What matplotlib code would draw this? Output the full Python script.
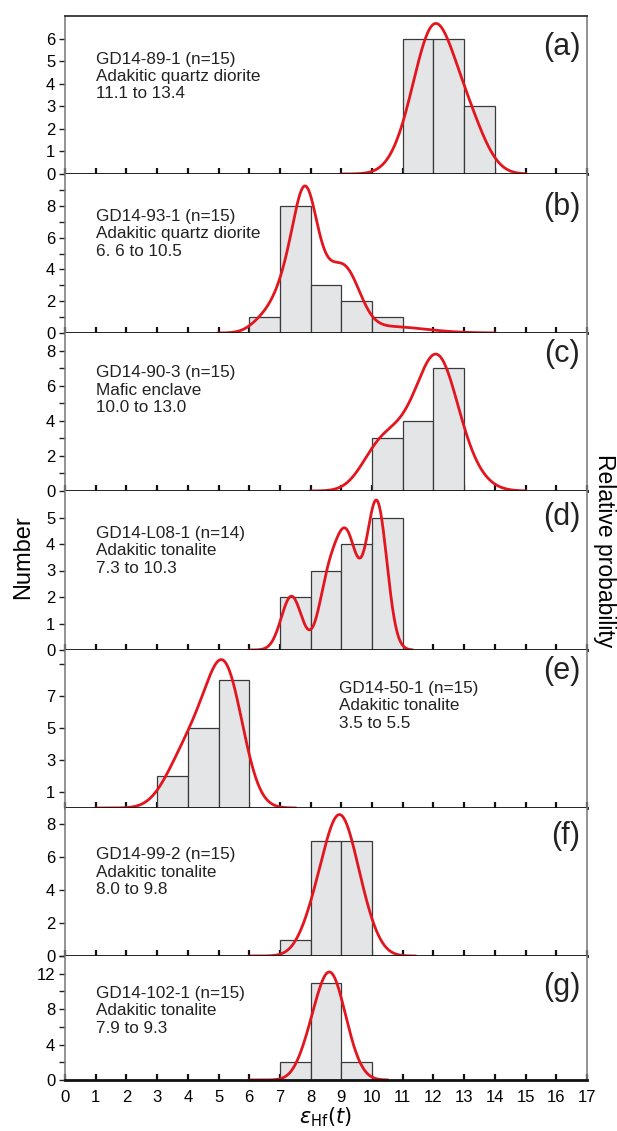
import matplotlib.pyplot as plt
import numpy as np

plt.rcParams['font.family'] = ['Liberation Sans', 'DejaVu Sans']

# individual eHf(t) analyses for each sample (histogram + probability curve)
vals_a = [11.1, 11.5, 11.7, 11.8, 11.9, 11.95, 12.0, 12.1, 12.2, 12.3, 12.45, 12.7, 13.0, 13.1, 13.4]
sig_a = [0.55] * 15
vals_b = [6.6, 7.1, 7.4, 7.6, 7.75, 7.82, 7.88, 7.94, 7.98, 8.4, 8.8, 8.95, 9.2, 9.35, 10.5]
sig_b = [0.45, 0.35, 0.35, 0.35, 0.35, 0.35, 0.35, 0.35, 0.35, 0.35, 0.45, 0.45, 0.45, 0.45, 1.2]
vals_c = [10.0, 10.3, 10.7, 11.1, 11.4, 11.7, 11.9, 12.0, 12.1, 12.2, 12.3, 12.5, 12.7, 12.98]
sig_c = [0.55] * 12 + [0.65, 0.65]
vals_d = [7.3, 7.45, 8.5, 8.6, 8.9, 9.1, 9.2, 9.3, 9.7, 10.0, 10.1, 10.2, 10.25, 10.3]
sig_d = [0.32, 0.32, 0.3, 0.3, 0.3, 0.3, 0.3, 0.3, 0.35, 0.3, 0.3, 0.3, 0.3, 0.3]
vals_e = [3.5, 3.8, 4.1, 4.3, 4.5, 4.7, 4.95, 5.1, 5.15, 5.2, 5.25, 5.3, 5.35, 5.4, 5.5]
sig_e = [0.55] * 15
vals_f = [7.99, 8.2, 8.4, 8.6, 8.7, 8.8, 8.9, 8.95, 9.0, 9.05, 9.1, 9.2, 9.4, 9.6, 9.8]
sig_f = [0.45] * 15
vals_g = [7.9, 7.95, 8.2, 8.3, 8.4, 8.5, 8.55, 8.6, 8.65, 8.7, 8.8, 8.85, 8.9, 9.1, 9.3]
sig_g = [0.38] * 15

all_vals = [vals_a, vals_b, vals_c, vals_d, vals_e, vals_f, vals_g]
all_sig = [sig_a, sig_b, sig_c, sig_d, sig_e, sig_f, sig_g]

names = ["GD14-89-1 (n=15)", "GD14-93-1 (n=15)", "GD14-90-3 (n=15)", "GD14-L08-1 (n=14)",
         "GD14-50-1 (n=15)", "GD14-99-2 (n=15)", "GD14-102-1 (n=15)"]
rocks = ["Adakitic quartz diorite", "Adakitic quartz diorite", "Mafic enclave", "Adakitic tonalite",
         "Adakitic tonalite", "Adakitic tonalite", "Adakitic tonalite"]
ranges = ["11.1 to 13.4", "6. 6 to 10.5", "10.0 to 13.0", "7.3 to 10.3",
          "3.5 to 5.5", "8.0 to 9.8", "7.9 to 9.3"]
letters = ["(a)", "(b)", "(c)", "(d)", "(e)", "(f)", "(g)"]

# curve peak heights (on count scale) and curve extent
peaks = [6.67, 9.25, 7.8, 5.66, 9.3, 8.6, 12.2]
curve_lo = [9, 5, 8, 6, 1, 6, 6]
curve_hi = [15, 14, 15, 11.3, 7.5, 11.4, 10.5]

ymax = [7, 10, 9, 6, 9.9, 9, 14]
yticks = [[0, 1, 2, 3, 4, 5, 6], [0, 2, 4, 6, 8], [0, 2, 4, 6, 8], [0, 1, 2, 3, 4, 5],
          [1, 3, 5, 7, 9], [0, 2, 4, 6, 8], [0, 4, 8, 12]]
yminor = [[], [1, 3, 5, 7, 9], [1, 3, 5, 7], [], [], [], [2, 6, 10, 14]]
bins = np.arange(0, 18)

# panel pixel extents (top, bottom)
px_top = [16, 174, 333, 491, 650, 808, 956]
px_bot = [174, 333, 491, 650, 808, 956, 1080]
text_pos = [(0.06, 0.775), (0.06, 0.78), (0.06, 0.795), (0.06, 0.78),
            (0.525, 0.805), (0.06, 0.735), (0.06, 0.76)]
lab_y = [0.9, 0.885, 0.96, 0.93, 0.96, 0.91, 0.875]

W, H = 617, 1131
fig = plt.figure(figsize=(W / 100, H / 100), dpi=100)
left, right = 65 / W, 587 / W

for i in range(7):
    b = 1 - px_bot[i] / H
    h = (px_bot[i] - px_top[i]) / H
    ax = fig.add_axes([left, b, right - left, h])
    v = np.array(all_vals[i])
    s = np.array(all_sig[i])
    counts, _ = np.histogram(v, bins=bins)
    nz = counts > 0
    ax.bar(bins[:-1][nz], counts[nz], width=1, align='edge', color='#e4e5e7',
           edgecolor='#3a3a3a', linewidth=0.9, zorder=2)
    xs = np.linspace(curve_lo[i], curve_hi[i], 600)
    dens = np.sum(np.exp(-(xs[:, None] - v[None, :]) ** 2 / (2 * s[None, :] ** 2)) / s[None, :], axis=1)
    dens = dens / dens.max() * peaks[i]
    ax.plot(xs, dens, color='#e3161f', lw=2.0, zorder=3, clip_on=False)

    ax.set_xlim(0, 17)
    ax.set_ylim(0, ymax[i])
    ax.set_xticks(range(0, 18))
    ax.tick_params(axis='x', direction='in', length=4, width=1.6, color='#111111',
                   labelsize=12, pad=7)
    if i < 6:
        ax.tick_params(axis='x', labelbottom=False)
    ax.set_yticks(yticks[i])
    if i == 4:
        ax.set_yticklabels(['1', '3', '5', '7', ''])
    ax.set_yticks(yminor[i], minor=True)
    ax.tick_params(axis='y', which='both', direction='out', length=4, width=1.0,
                   color='#222222', labelsize=12, pad=3)
    for sp in ['left', 'right']:
        ax.spines[sp].set_color('#808080')
        ax.spines[sp].set_linewidth(1.2)
    ax.spines['bottom'].set_linewidth(2.0)
    ax.spines['bottom'].set_color('#111111')
    ax.spines['bottom'].set_zorder(4)
    if i == 0:
        ax.spines['top'].set_color('#222222')
        ax.spines['top'].set_linewidth(1.2)
    else:
        ax.spines['top'].set_visible(False)

    tx, ty = text_pos[i]
    ax.text(tx, ty, names[i] + "\n" + rocks[i] + "\n" + ranges[i], transform=ax.transAxes,
            fontsize=12.3, va='top', ha='left', color='#222222', linespacing=1.2)
    ax.text(0.987, lab_y[i], letters[i], transform=ax.transAxes, fontsize=22,
            ha='right', va='top', color='#222222')

fig.text(0.527, 0.0125, r'$\varepsilon_{\rm Hf}(t)$', fontsize=15, ha='center', va='center')
fig.text(0.038, 0.507, 'Number', rotation=90, fontsize=17, ha='center', va='center')
fig.text(0.98, 0.513, 'Relative probability', rotation=270, fontsize=16.5,
         ha='center', va='center')

fig.savefig('out.png', dpi=100)
